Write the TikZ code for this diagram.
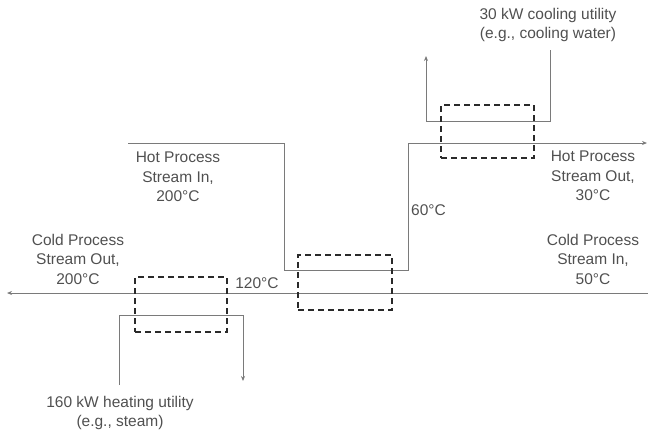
\documentclass[tikz,border=0pt]{standalone}
\usepackage{fontspec}
\setmainfont{Liberation Sans}
\usetikzlibrary{arrows.meta}
\definecolor{linegray}{HTML}{7A7A7A}
\definecolor{txtgray}{HTML}{505050}
\definecolor{boxdark}{HTML}{2A2A2A}
\begin{document}
\begin{tikzpicture}[x=1pt,y=-1pt,
  stream/.style={draw=linegray,line width=1pt},
  flowtip/.style={-{Stealth[length=5pt,width=4pt]}},
  hxbox/.style={draw=boxdark,line width=1.1pt,dash pattern=on 6pt off 4pt,inner sep=0pt,minimum height=55pt},
  lbl/.style={text=txtgray,font=\fontsize{15.5}{19.5}\selectfont,align=center,inner sep=0pt}]
\useasboundingbox (0,0) rectangle (648,432);
% hot stream coordinates
\coordinate (h0) at (128,143);
\coordinate (h1) at (284,143);
\coordinate (h2) at (284,270);
\coordinate (h3) at (408,270);
\coordinate (h4) at (408,143);
\coordinate (h5) at (647,143);
\draw[stream,flowtip] (h0) -- (h1) -- (h2) -- (h3) -- (h4) -- (h5);
% cold stream
\coordinate (c0) at (648,293);
\coordinate (c1) at (7,293);
\draw[stream,flowtip] (c0) -- (c1);
% heating utility
\coordinate (s0) at (119,385);
\coordinate (s1) at (119,315);
\coordinate (s2) at (243,315);
\coordinate (s3) at (243,381);
\draw[stream,flowtip] (s0) -- (s1) -- (s2) -- (s3);
% cooling utility
\coordinate (w0) at (550,50);
\coordinate (w1) at (550,121);
\coordinate (w2) at (426,121);
\coordinate (w3) at (426,56);
\draw[stream,flowtip] (w0) -- (w1) -- (w2) -- (w3);
% heat exchanger boxes
\node[hxbox,minimum width=92pt] (heater) at (181,304.5) {};
\node[hxbox,minimum width=94pt] (recov) at (345,282.5) {};
\node[hxbox,minimum width=93pt,minimum height=53pt] (cooler) at (487.5,131.5) {};
% labels
\node[lbl] (cool) at (548,25) {30 kW cooling utility\\(e.g., cooling water)};
\node[lbl] (hin) at (178,177) {Hot Process\\Stream In,\\200°C};
\node[lbl] (hout) at (593,176) {Hot Process\\Stream Out,\\30°C};
\node[lbl,anchor=west] (t60) at (411,210) {60°C};
\node[lbl] (cout) at (78,259) {Cold Process\\Stream Out,\\200°C};
\node[lbl] (t120) at (257,283) {120°C};
\node[lbl] (cin) at (593,259) {Cold Process\\Stream In,\\50°C};
\node[lbl] (heat) at (120,413) {160 kW heating utility\\(e.g., steam)};
\end{tikzpicture}
\end{document}
